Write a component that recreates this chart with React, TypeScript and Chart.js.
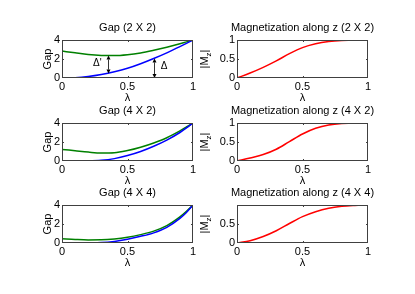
import React, { useEffect, useRef } from 'react';
import { Chart, registerables } from 'chart.js';

Chart.register(...registerables);

// ---------- data ----------
const lambda = [0, 0.1, 0.2, 0.3, 0.4, 0.5, 0.6, 0.7, 0.8, 0.9, 0.95, 1];

const gap2x2Lower = [0, 0.03, 0.15, 0.36, 0.65, 1.02, 1.5, 2.05, 2.65, 3.3, 3.64, 4.0];
const gap2x2Upper = [2.83, 2.65, 2.48, 2.38, 2.36, 2.45, 2.64, 2.92, 3.24, 3.6, 3.8, 4.0];
const mag2x2 = [0, 0.13, 0.28, 0.45, 0.64, 0.8, 0.9, 0.96, 0.99, 1.0, 1.0, 1.0];

const gap4x2Lower = [0, 0, 0.01, 0.07, 0.25, 0.57, 1.0, 1.55, 2.2, 3.0, 3.48, 4.0];
const gap4x2Upper = [1.22, 1.08, 0.94, 0.84, 0.87, 1.1, 1.45, 1.9, 2.45, 3.17, 3.58, 4.0];
const mag4x2 = [0, 0.08, 0.17, 0.31, 0.51, 0.71, 0.86, 0.95, 0.99, 1.0, 1.0, 1.0];

const gap4x4Lower = [0, 0, 0.01, 0.04, 0.17, 0.4, 0.7, 1.07, 1.65, 2.6, 3.22, 4.0];
const gap4x4Upper = [0.45, 0.37, 0.32, 0.33, 0.42, 0.6, 0.88, 1.25, 1.83, 2.75, 3.33, 4.0];
const mag4x4 = [0, 0.06, 0.17, 0.32, 0.51, 0.69, 0.82, 0.91, 0.96, 0.985, 0.993, 0.995];

const xTicks = [0, 0.5, 1];
const gapTicks = [0, 2, 4];
const magTicks = [0, 0.5, 1];
const magTicks4x4 = [0, 0.5];

// annotation values (panel Gap 2 X 2)
const deltaPrimeArrow = { x: 0.35, from: 0.47, to: 2.36 };
const deltaArrow = { x: 0.7, from: 0, to: 2.05 };
const deltaPrimeLabel = { x: 0.27, y: 1.6, text: "Δ'" };
const deltaLabel = { x: 0.78, y: 1.2, text: 'Δ' };

// ---------- styling ----------
const FONT = "'Liberation Sans', Arial, Helvetica, sans-serif";
const BLUE = '#0000ff';
const GREEN = '#008000';
const RED = '#ff0000';
const AXIS = '#404040';

const padL = 45;
const padT = 30;
const padR = 12;
const padB = 30;

type Series = { values: number[]; color: string };
type PanelProps = {
  left: number;
  top: number;
  w: number;
  h: number;
  title: string;
  series: Series[];
  yMax: number;
  yTicks: number[];
  kind: 'gap' | 'mag';
  annotate?: boolean;
};

const boxPlugin = {
  id: 'matlabBox',
  afterDraw(chart: any) {
    const { ctx, chartArea: a, scales } = chart;
    ctx.save();
    ctx.strokeStyle = AXIS;
    ctx.lineWidth = 1;
    ctx.strokeRect(a.left + 0.5, a.top + 0.5, a.right - a.left - 1, a.bottom - a.top - 1);
    const tl = 2;
    ctx.beginPath();
    for (const t of scales.x.ticks) {
      const px = Math.round(scales.x.getPixelForValue(t.value)) + 0.5;
      if (px <= a.left + 1 || px >= a.right - 1) continue;
      ctx.moveTo(px, a.bottom);
      ctx.lineTo(px, a.bottom - tl);
      ctx.moveTo(px, a.top);
      ctx.lineTo(px, a.top + tl);
    }
    for (const t of scales.y.ticks) {
      const py = Math.round(scales.y.getPixelForValue(t.value)) + 0.5;
      if (py <= a.top + 1 || py >= a.bottom - 1) continue;
      ctx.moveTo(a.left, py);
      ctx.lineTo(a.left + tl, py);
      ctx.moveTo(a.right, py);
      ctx.lineTo(a.right - tl, py);
    }
    ctx.stroke();
    ctx.restore();
  },
};

const panelTitlePlugin = {
  id: 'panelTitle',
  afterDraw(chart: any) {
    const text = chart.options.plugins.panelTitle?.text;
    if (!text) return;
    const { ctx, chartArea: a } = chart;
    ctx.save();
    ctx.fillStyle = '#000';
    ctx.font = `11px ${FONT}`;
    ctx.textAlign = 'center';
    ctx.textBaseline = 'middle';
    ctx.fillText(text, (a.left + a.right) / 2, a.top - 12);
    ctx.restore();
  },
};

const magLabelPlugin = {
  id: 'magLabel',
  afterDraw(chart: any) {
    if (!chart.options.plugins.magLabel?.show) return;
    const { ctx, chartArea: a } = chart;
    ctx.save();
    ctx.translate(a.left - 32, (a.top + a.bottom) / 2);
    ctx.rotate(-Math.PI / 2);
    ctx.fillStyle = '#000';
    ctx.textBaseline = 'middle';
    ctx.font = `11px ${FONT}`;
    const w1 = ctx.measureText('|M').width;
    ctx.font = `8px ${FONT}`;
    const wz = ctx.measureText('z').width;
    ctx.font = `11px ${FONT}`;
    const w2 = ctx.measureText('|').width;
    const total = w1 + wz + w2;
    let x = -total / 2;
    ctx.textAlign = 'left';
    ctx.fillText('|M', x, 0);
    x += w1;
    ctx.font = `8px ${FONT}`;
    ctx.fillText('z', x, 4);
    x += wz;
    ctx.font = `11px ${FONT}`;
    ctx.fillText('|', x, 0);
    ctx.restore();
  },
};

function drawArrow(ctx: any, x: number, y1: number, y2: number) {
  const head = 4;
  const hw = 2;
  ctx.beginPath();
  ctx.moveTo(x, y1 - head);
  ctx.lineTo(x, y2 + head);
  ctx.stroke();
  ctx.beginPath();
  ctx.moveTo(x, y1);
  ctx.lineTo(x - hw, y1 - head);
  ctx.lineTo(x + hw, y1 - head);
  ctx.closePath();
  ctx.fill();
  ctx.beginPath();
  ctx.moveTo(x, y2);
  ctx.lineTo(x - hw, y2 + head);
  ctx.lineTo(x + hw, y2 + head);
  ctx.closePath();
  ctx.fill();
}

const annotationPlugin = {
  id: 'deltaArrows',
  afterDatasetsDraw(chart: any) {
    if (!chart.options.plugins.deltaArrows?.show) return;
    const { ctx, scales } = chart;
    const xs = scales.x;
    const ys = scales.y;
    ctx.save();
    ctx.strokeStyle = '#000';
    ctx.fillStyle = '#000';
    ctx.lineWidth = 0.8;
    for (const arr of [deltaPrimeArrow, deltaArrow]) {
      const px = Math.round(xs.getPixelForValue(arr.x)) + 0.5;
      drawArrow(ctx, px, ys.getPixelForValue(arr.from), ys.getPixelForValue(arr.to));
    }
    ctx.font = `10px ${FONT}`;
    ctx.textAlign = 'center';
    ctx.textBaseline = 'middle';
    for (const lab of [deltaPrimeLabel, deltaLabel]) {
      ctx.fillText(lab.text, xs.getPixelForValue(lab.x), ys.getPixelForValue(lab.y));
    }
    ctx.restore();
  },
};

function Panel(props: PanelProps) {
  const ref = useRef<HTMLCanvasElement | null>(null);
  const cw = props.w + padL + padR;
  const ch = props.h + padT + padB;

  useEffect(() => {
    if (!ref.current) return;
    const tickFont = { family: FONT, size: 11 };
    const chart = new Chart(ref.current, {
      type: 'line',
      data: {
        datasets: props.series.map((s) => ({
          data: lambda.map((x, i) => ({ x, y: s.values[i] })),
          borderColor: s.color,
          backgroundColor: s.color,
          borderWidth: 1.5,
          pointRadius: 0,
          fill: false,
          cubicInterpolationMode: 'monotone' as const,
        })),
      },
      options: {
        responsive: false,
        animation: false,
        devicePixelRatio: 1,
        events: [],
        layout: { padding: { left: 0, top: padT, right: padR, bottom: 0 } },
        plugins: {
          legend: { display: false },
          tooltip: { enabled: false },
          title: { display: false },
          panelTitle: { text: props.title },
          magLabel: { show: props.kind === 'mag' },
          deltaArrows: { show: !!props.annotate },
        } as any,
        scales: {
          x: {
            type: 'linear',
            min: 0,
            max: 1,
            afterFit: (s: any) => {
              s.height = padB;
              s.paddingLeft = 0;
              s.paddingRight = 0;
            },
            afterBuildTicks: (s: any) => {
              s.ticks = xTicks.map((v) => ({ value: v }));
            },
            grid: { display: false, drawTicks: false },
            border: { display: false },
            ticks: {
              padding: 2,
              color: '#000',
              font: tickFont,
              maxRotation: 0,
              autoSkip: false,
              callback: (v: any) => String(v),
            },
            title: {
              display: true,
              text: 'λ',
              color: '#000',
              font: tickFont,
              padding: { top: 0, bottom: 3.4 },
            },
          },
          y: {
            type: 'linear',
            min: 0,
            max: props.yMax,
            afterFit: (s: any) => {
              s.width = padL;
              s.paddingTop = 0;
              s.paddingBottom = 0;
            },
            afterBuildTicks: (s: any) => {
              s.ticks = props.yTicks.map((v) => ({ value: v }));
            },
            grid: { display: false, drawTicks: false },
            border: { display: false },
            ticks: {
              padding: 2,
              color: '#000',
              font: tickFont,
              autoSkip: false,
              callback: (v: any) => String(v),
            },
            title: {
              display: props.kind === 'gap',
              text: 'Gap',
              color: '#000',
              font: tickFont,
              padding: { top: 24.4, bottom: 0 },
            },
          },
        },
      },
      plugins: [boxPlugin, panelTitlePlugin, magLabelPlugin, annotationPlugin],
    } as any);
    return () => chart.destroy();
  }, []);

  return (
    <canvas
      ref={ref}
      width={cw}
      height={ch}
      style={{
        position: 'absolute',
        left: props.left - padL,
        top: props.top - padT,
        width: cw,
        height: ch,
      }}
    />
  );
}

export default function App() {
  const W = 131;
  const H = 38;
  const leftCol = 62;
  const rightCol = 237;
  const rows = [40, 123, 205];
  return (
    <div
      style={{
        position: 'fixed',
        left: 0,
        top: 0,
        width: 415,
        height: 294,
        background: '#fff',
        overflow: 'hidden',
      }}
    >
      <Panel
        left={leftCol}
        top={rows[0]}
        w={W}
        h={H}
        title="Gap (2 X 2)"
        series={[
          { values: gap2x2Lower, color: BLUE },
          { values: gap2x2Upper, color: GREEN },
        ]}
        yMax={4}
        yTicks={gapTicks}
        kind="gap"
        annotate
      />
      <Panel
        left={rightCol}
        top={rows[0]}
        w={W}
        h={H}
        title="Magnetization along z (2 X 2)"
        series={[{ values: mag2x2, color: RED }]}
        yMax={1}
        yTicks={magTicks}
        kind="mag"
      />
      <Panel
        left={leftCol}
        top={rows[1]}
        w={W}
        h={H}
        title="Gap (4 X 2)"
        series={[
          { values: gap4x2Lower, color: BLUE },
          { values: gap4x2Upper, color: GREEN },
        ]}
        yMax={4}
        yTicks={gapTicks}
        kind="gap"
      />
      <Panel
        left={rightCol}
        top={rows[1]}
        w={W}
        h={H}
        title="Magnetization along z (4 X 2)"
        series={[{ values: mag4x2, color: RED }]}
        yMax={1}
        yTicks={magTicks}
        kind="mag"
      />
      <Panel
        left={leftCol}
        top={rows[2]}
        w={W}
        h={H}
        title="Gap (4 X 4)"
        series={[
          { values: gap4x4Lower, color: BLUE },
          { values: gap4x4Upper, color: GREEN },
        ]}
        yMax={4}
        yTicks={gapTicks}
        kind="gap"
      />
      <Panel
        left={rightCol}
        top={rows[2]}
        w={W}
        h={H}
        title="Magnetization along z (4 X 4)"
        series={[{ values: mag4x4, color: RED }]}
        yMax={0.995}
        yTicks={magTicks4x4}
        kind="mag"
      />
    </div>
  );
}
